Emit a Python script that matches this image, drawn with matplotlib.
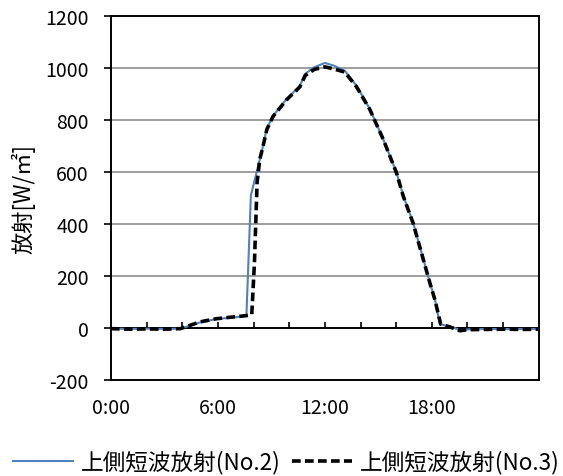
import matplotlib.pyplot as plt

plt.rcParams['font.family'] = ['Noto Sans CJK JP', 'DejaVu Sans']
plt.rcParams['axes.unicode_minus'] = False

# hours of day
no2_hours = [0, 1, 2, 3, 3.9, 5.0, 5.9, 7.0, 7.6, 7.85, 8.17, 8.45, 8.73, 9.1,
             9.85, 10.6, 10.88, 11.35, 12.0, 12.5, 13.12, 13.78, 14.53, 15.27,
             16.02, 16.4, 16.95, 17.89, 18.17, 18.45, 19.2, 19.57, 20, 21, 22, 23, 24]
no2_values = [-2, -3, -2, -3, -2, 22, 35, 42, 47, 510, 599, 676, 765, 817,
              881, 932, 977, 1002, 1020, 1010, 990, 932, 842, 727,
              599, 509, 406, 176, 112, 15, 3, -8, -5, -3, -4, -3, -3]

no3_hours = [0, 1, 2, 3, 3.9, 5.0, 5.9, 7.0, 7.6, 7.9, 8.05, 8.2, 8.35, 8.5,
             8.75, 9.1, 9.85, 10.6, 10.9, 11.4, 12.0, 12.5, 13.12, 13.78, 14.53,
             15.27, 16.02, 16.4, 16.95, 17.89, 18.17, 18.5, 19.0, 19.57, 20, 21, 22, 23, 24]
no3_values = [-2, -4, -3, -4, -2, 24, 36, 44, 48, 52, 250, 560, 650, 690,
              765, 815, 878, 928, 972, 995, 1005, 997, 985, 928, 840,
              727, 597, 507, 404, 174, 110, 15, 5, -10, -6, -5, -4, -5, -4]

label_hours = [0, 6, 12, 18]
label_texts = ['0:00', '6:00', '12:00', '18:00']
y_ticks = [-200, 0, 200, 400, 600, 800, 1000, 1200]

fig = plt.figure(figsize=(5.63, 4.77), dpi=100)
ax = fig.add_axes([0.197, 0.201, 0.76, 0.763])

ax.plot(no2_hours, no2_values, color='#4F81BD', linewidth=1.5,
        label='上側短波放射(No.2)', zorder=3)
ax.plot(no3_hours, no3_values, color='black', linewidth=2.6,
        linestyle=(0, (2.4, 1.2)), label='上側短波放射(No.3)', zorder=4)

ax.set_xlim(0, 24)
ax.set_ylim(-200, 1200)
ax.set_yticks(y_ticks)
ax.set_xticks(label_hours)
ax.set_xticklabels(label_texts)
ax.tick_params(axis='x', length=0, pad=12, labelsize=14)
ax.tick_params(axis='y', length=5, width=1.2, direction='out', labelsize=14, pad=11)

for g in [200, 400, 600, 800, 1000]:
    ax.axhline(g, color='#8c8c8c', linewidth=1.2, zorder=1)
ax.axhline(0, color='black', linewidth=1.4, zorder=2)
ax.vlines(range(2, 24, 2), 0, 22, color='black', linewidth=1.2, zorder=2)

for s in ax.spines.values():
    s.set_linewidth(1.4)
    s.set_color('black')

ax.set_ylabel('放射[W/㎡]', fontsize=16, labelpad=7)

fig.legend(loc='center', bbox_to_anchor=(0.508, 1 - 463 / 477), ncol=2, frameon=False,
           fontsize=16.3, handlelength=2.65, handletextpad=0.35, columnspacing=0.5,
           borderpad=0.1)

fig.savefig('out.png', dpi=100)
